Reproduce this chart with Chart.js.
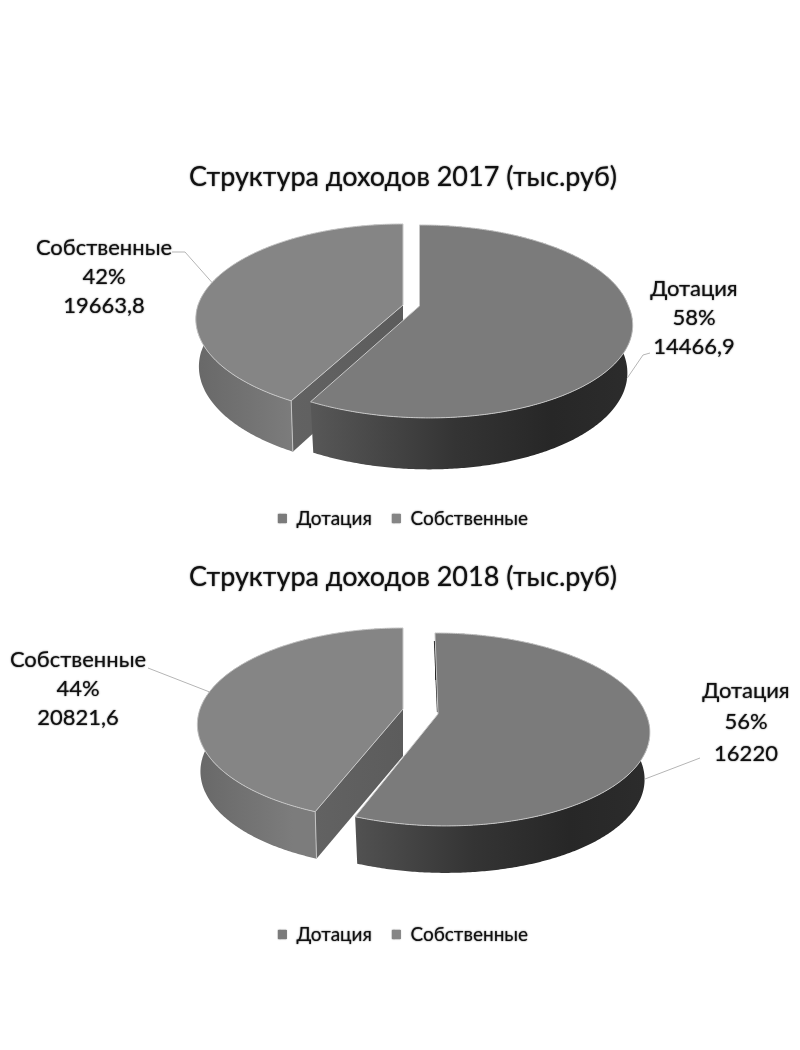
<!DOCTYPE html>
<html><head><meta charset="utf-8">
<script src="https://cdn.jsdelivr.net/npm/chart.js@4"></script>
<style>
html,body{margin:0;padding:0;background:#fff;width:800px;height:1050px;overflow:hidden}
canvas{position:absolute;filter:blur(.45px)}
</style></head><body>
<canvas id="c1" width="794" height="388" style="left:6px;top:150px"></canvas>
<canvas id="c2" width="794" height="404" style="left:6px;top:550px"></canvas>
<script>
const categories = ['Дотация', 'Собственные'];
const title2017 = 'Структура доходов 2017 (тыс.руб)';
const title2018 = 'Структура доходов 2018 (тыс.руб)';
const shares2017 = [58, 42];
const shares2018 = [56, 44];
const values2017 = ['14466,9', '19663,8'];
const values2018 = ['16220', '20821,6'];

const FONT = 'Lato, "Open Sans", sans-serif';
const topColors = ['#7b7b7b', '#858585'];
const LEAD = '#b5b5b5';

// 3D look of each pie: perspective tilt, size and explosion of the slices
const scene2017 = {
  k: .16, B: 94, H: 47, sy: 1.04,
  slices: [
    {ax: 419.5, ay: 306, A: 209, sx: .975, Sn: 0, Sp: 8},
    {ax: 403, ay: 305, A: 205, sx: .985, Sn: 0, Sp: 3}
  ],
  labels: [
    {x: 694, y: [289, 318, 347], elbow: [[643, 355], [650, 353]], rim: true},
    {x: 104, y: [248, 277, 306], elbow: [[185, 252], [172, 252]], rim: false}
  ]
};
const scene2018 = {
  k: .16, B: 94, H: 47, sy: 1,
  slices: [
    {ax: 438, ay: 714, A: 208, sx: .975, Sn: 3.5, Sp: 6.5},
    {ax: 403, ay: 709, A: 203, sx: .985, Sn: 0, Sp: 0}
  ],
  labels: [
    {x: 746, y: [691, 722, 754], elbow: [[700, 758]], rim: true},
    {x: 78, y: [660, 689, 718], elbow: [[148, 668]], rim: false}
  ]
};

function pt(sc, s, r, th, low) {
  const u = r * Math.sin(th), v = -r * Math.cos(th), w = 1 - sc.k * v;
  const sk = v > 0 ? s.Sp : s.Sn;
  return [
    s.ax + (s.A * u + sk * v) / w * (low ? s.sx : 1),
    s.ay + sc.B * v / w * (low ? sc.sy : 1) + (low ? sc.H : 0)
  ];
}
function poly(ctx, pts) {
  ctx.beginPath();
  pts.forEach((p, i) => i ? ctx.lineTo(p[0], p[1]) : ctx.moveTo(p[0], p[1]));
  ctx.closePath();
}
function grad(ctx, x0, x1, stops) {
  const g = ctx.createLinearGradient(x0, 0, x1, 0);
  stops.forEach(c => g.addColorStop(c[0], c[1]));
  return g;
}
function glow(ctx) {
  ctx.shadowColor = 'rgba(0,0,0,.8)';
  ctx.shadowBlur = 1.5;
}

const pie3d = {
  id: 'pie3d',
  beforeDraw(chart) { glow(chart.ctx); },
  beforeDatasetDraw(chart) {
    const ctx = chart.ctx, sc = chart.options.plugins.pie3d.scene;
    const org = chart.options.plugins.pie3d.origin;
    const arcs = chart.getDatasetMeta(0).data;
    ctx.save();
    ctx.shadowColor = 'transparent';
    ctx.translate(-org[0], -org[1]);
    [1, 0].forEach(i => {
      const a = arcs[i], s = sc.slices[i];
      const t0 = a.startAngle + Math.PI / 2, t1 = a.endAngle + Math.PI / 2;
      const n = Math.ceil((t1 - t0) / .01);
      const upper = [], lower = [];
      for (let j = 0; j <= n; j++) {
        const th = t0 + (t1 - t0) * j / n;
        upper.push(pt(sc, s, 1, th, false));
        lower.push(pt(sc, s, 1, th, true));
      }
      const xs = upper.map(p => p[0]);
      const xmin = Math.min(...xs), xmax = Math.max(...xs);
      // outer wall
      poly(ctx, upper.concat(lower.slice().reverse()));
      ctx.fillStyle = i === 0
        ? grad(ctx, s.ax - 110, xmax, [[0, '#585858'], [.45, '#343434'], [.75, '#272727'], [1, '#2c2c2c']])
        : grad(ctx, xmin, s.ax - 110, [[0, '#686868'], [1, '#7c7c7c']]);
      ctx.fill();
      // inner cut that faces the viewer
      if (i === 1) {
        const c0 = pt(sc, s, 0, t0, false), c1 = upper[0], c2 = lower[0], c3 = pt(sc, s, 0, t0, true);
        poly(ctx, [c0, c1, c2, c3]);
        ctx.fillStyle = grad(ctx, c1[0], c0[0], [[0, '#626262'], [1, '#5c5c5c']]);
        ctx.fill();
        ctx.strokeStyle = '#c4c4c4'; ctx.lineWidth = 1;
        ctx.beginPath(); ctx.moveTo(c1[0], c1[1]); ctx.lineTo(c2[0], c2[1]); ctx.stroke();
      } else {
        const c0 = pt(sc, s, 0, t0, false);
        const c1 = upper[0];
        if (c1[0] < c0[0] - 2) {
          ctx.strokeStyle = '#1c1c1c'; ctx.lineWidth = 1.2;
          ctx.beginPath(); ctx.moveTo(c1[0] - .5, c1[1] + 8); ctx.lineTo(c0[0] - .5, c0[1] - 2); ctx.stroke();
        }
      }
      // top face
      poly(ctx, upper.concat([pt(sc, s, 0, t0, false)]));
      ctx.fillStyle = chart.data.datasets[0].backgroundColor[i];
      ctx.fill();
      ctx.strokeStyle = '#c8c8c8'; ctx.lineWidth = 1;
      ctx.stroke();
    });
    ctx.restore();
    return false;
  },
  afterDraw(chart) {
    const ctx = chart.ctx, o = chart.options.plugins.pie3d, sc = o.scene;
    const arcs = chart.getDatasetMeta(0).data;
    ctx.save();
    ctx.translate(-o.origin[0], -o.origin[1]);
    sc.labels.forEach((lb, i) => {
      const a = arcs[i], s = sc.slices[i];
      const mid = (a.startAngle + a.endAngle) / 2 + Math.PI / 2;
      const p0 = pt(sc, s, 1, mid, lb.rim);
      ctx.shadowColor = 'transparent';
      ctx.strokeStyle = LEAD; ctx.lineWidth = 1;
      ctx.beginPath(); ctx.moveTo(p0[0], p0[1]);
      lb.elbow.forEach(p => ctx.lineTo(p[0], p[1]));
      ctx.stroke();
      glow(ctx);
      ctx.fillStyle = '#111';
      ctx.font = '22px ' + FONT;
      ctx.textAlign = 'center'; ctx.textBaseline = 'middle';
      const lines = [chart.data.labels[i], chart.data.datasets[0].data[i] + '%', o.values[i]];
      lines.forEach((t, j) => ctx.fillText(t, lb.x, lb.y[j]));
    });
    ctx.restore();
  }
};

function makeChart(id, title, shares, values, scene, origin, titlePad) {
  return new Chart(document.getElementById(id), {
    type: 'pie',
    data: {
      labels: categories,
      datasets: [{data: shares, backgroundColor: topColors, borderWidth: 0}]
    },
    plugins: [pie3d],
    options: {
      responsive: false, animation: false, devicePixelRatio: 1,
      layout: {padding: 0},
      plugins: {
        tooltip: {enabled: false},
        title: {display: true, text: title, color: '#111',
          font: {family: FONT, size: 27, weight: 'normal'}, padding: titlePad},
        legend: {position: 'bottom',
          labels: {color: '#111', boxWidth: 9, boxHeight: 9, padding: 20,
            font: {family: FONT, size: 19}}},
        pie3d: {scene, values, origin}
      }
    }
  });
}
makeChart('c1', title2017, shares2017, values2017, scene2017, [6, 150], {top: 11, bottom: 10});
makeChart('c2', title2018, shares2018, values2018, scene2018, [6, 550], {top: 11, bottom: 10});
</script>
</body></html>
